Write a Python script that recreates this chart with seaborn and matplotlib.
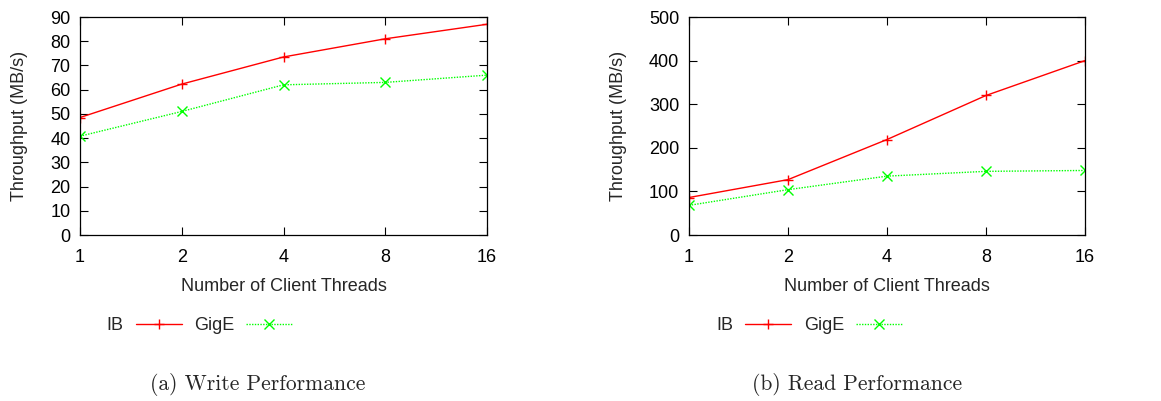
import matplotlib
matplotlib.use("Agg")
import matplotlib.pyplot as plt
import seaborn as sns
import pandas as pd
from matplotlib.lines import Line2D

threads = [1, 2, 4, 8, 16]
write_ib = [48.5, 62.3, 73.5, 81, 87]
write_gige = [40.8, 51, 62, 63, 66]
read_ib = [86, 127, 219, 320, 400]
read_gige = [68, 104, 135, 146, 148]
series = ["IB", "GigE"]
captions = ["(a) Write Performance", "(b) Read Performance"]

sns.set_theme(style="ticks")
plt.rcParams["font.family"] = ["Liberation Sans", "DejaVu Sans"]

def frame(ib, gige):
    return pd.DataFrame({
        "threads": threads * 2,
        "value": ib + gige,
        "series": [series[0]] * len(threads) + [series[1]] * len(threads),
    })

fig = plt.figure(figsize=(11.61, 4.01), dpi=100)
ax1 = fig.add_axes([80 / 1161, 1 - 235 / 401, 407 / 1161, 218 / 401])
ax2 = fig.add_axes([689 / 1161, 1 - 235 / 401, 396 / 1161, 218 / 401])

palette = {"IB": "#ff0000", "GigE": "#00ff00"}
panels = [(ax1, frame(write_ib, write_gige), 90, range(0, 91, 10), 0.066, 258),
          (ax2, frame(read_ib, read_gige), 500, range(0, 501, 100), 0.07, 857)]

for (ax, df, ymax, yt, lx, cx), cap in zip(panels, captions):
    sns.lineplot(data=df, x="threads", y="value", hue="series", style="series",
                 palette=palette, markers={"IB": "+", "GigE": "x"},
                 dashes={"IB": "", "GigE": (1, 1)}, markersize=6.5,
                 markeredgewidth=1.0, linewidth=1.0, ax=ax, legend=False)
    for ln in ax.lines:
        ln.set_markeredgecolor(ln.get_color())
    ax.set_xscale("log", base=2)
    ax.set_xlim(1, 16)
    ax.set_xticks(threads)
    ax.set_xticklabels([str(t) for t in threads])
    ax.minorticks_off()
    ax.set_ylim(0, ymax)
    ax.set_yticks(list(yt))
    ax.tick_params(direction="in", length=6, width=0.8, top=True, right=True,
                   labelsize=13, colors="black", pad=7)
    ax.tick_params(axis="x", pad=10)
    for s in ax.spines.values():
        s.set_linewidth(0.9)
        s.set_color("black")
    ax.set_xlabel("Number of Client Threads", fontsize=13, labelpad=9)
    ax.set_ylabel("Throughput (MB/s)", fontsize=13, labelpad=16)
    handles = [Line2D([], [], color="#ff0000", marker="+", lw=1.0, markersize=6.5),
               Line2D([], [], color="#00ff00", marker="x", lw=1.0, ls=(0, (1, 1)), markersize=6.5)]
    ax.legend(handles, series, loc="center left", bbox_to_anchor=(lx, -0.415),
              ncol=2, frameon=False, markerfirst=False, fontsize=13, borderpad=0,
              borderaxespad=0, handlelength=2.55, columnspacing=0.7, handletextpad=0.65)
    fig.text(cx / 1161, 1 - 385 / 401, cap, ha="center", va="center",
             fontsize=15.5, family=["cmr10", "DejaVu Serif"])

fig.savefig("out.png", dpi=100)
